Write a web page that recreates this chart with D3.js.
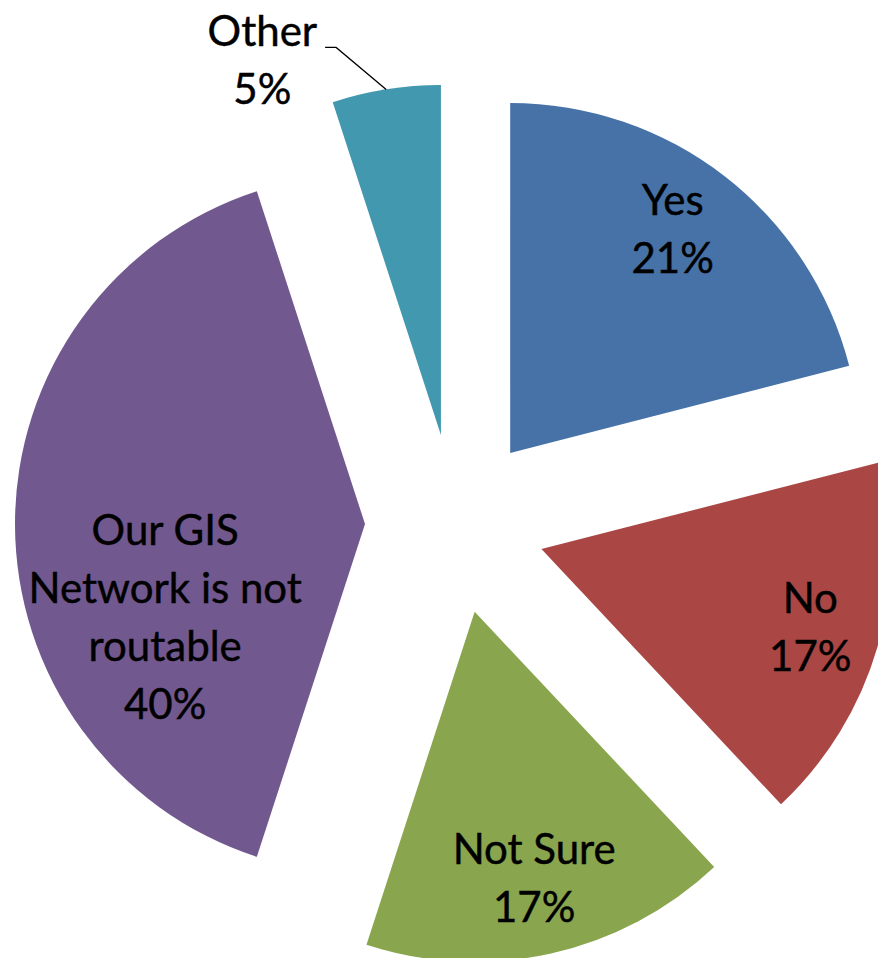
<!DOCTYPE html>
<html>
<head>
<meta charset="utf-8">
<script src="https://cdn.jsdelivr.net/npm/d3@7"></script>
<style>
  html, body { margin: 0; padding: 0; background: #fff; }
  svg { display: block; }
  text { font-family: Lato, "Open Sans", sans-serif; fill: #000; stroke: #000; stroke-width: 0.45px; }
</style>
</head>
<body>
<svg id="chart" width="878" height="958"></svg>
<script>
// Survey answers, clockwise from 12 o'clock
const categories = ["Yes", "No", "Not Sure", "Our GIS Network is not routable", "Other"];
const shares = [21, 17, 17, 40, 5];
const nameLines = [["Yes"], ["No"], ["Not Sure"], ["Our GIS", "Network is not", "routable"], ["Other"]];
const percentLabels = ["21%", "17%", "17%", "40%", "5%"];
const sliceColors = ["#4672A7", "#AA4643", "#89A54E", "#71588F", "#4198AF"];

const W = 878, H = 958;
const cx = 455, cy = 524;       // pie centre
const R = 350;                  // slice radius
const explode = 90;             // how far each slice is pulled out
const fontSize = 42, lineH = 58;

// label placement: polar offset from each slice's own apex (angle in degrees, distance as fraction of R)
const labelPolar = [
  { a: 36, f: 0.79 },
  { a: null, f: 0.80 },
  { a: null, f: 0.78 },
  { a: 245, f: 0.63 },
  { a: 334.5, f: 1.185, outside: true }
];

const svg = d3.select("#chart");
const pie = d3.pie().sort(null).value(d => d).startAngle(0).endAngle(2 * Math.PI);
const arcs = pie(shares);
const arc = d3.arc().innerRadius(0).outerRadius(R);

const polar = (ang, r) => [r * Math.sin(ang), -r * Math.cos(ang)];

const g = svg.append("g").attr("transform", `translate(${cx},${cy})`);

arcs.forEach((d, i) => {
  const mid = (d.startAngle + d.endAngle) / 2;
  const [ox, oy] = polar(mid, explode);
  const sg = g.append("g").attr("transform", `translate(${ox},${oy})`);
  sg.append("path").attr("d", arc(d)).attr("fill", sliceColors[i]);

  const lp = labelPolar[i];
  const la = lp.a == null ? mid : lp.a * Math.PI / 180;
  const [lx, ly] = polar(la, lp.f * R);
  const lines = nameLines[i].concat([percentLabels[i]]);
  const top = ly - (lines.length - 1) * lineH / 2;

  const t = sg.append("text")
    .attr("text-anchor", "middle")
    .attr("font-size", fontSize);
  lines.forEach((s, k) => {
    t.append("tspan").attr("x", lx).attr("y", top + k * lineH).attr("dy", "0.35em").text(s);
  });

  if (lp.outside) {
    // leader from the end of the first label line to the middle of the arc
    const [ex, ey] = polar(mid, R);
    const baseY = top + fontSize * 0.35 + 1;
    const startX = lx + t.select("tspan").node().getComputedTextLength() / 2 + 8;
    const elbowX = startX + 11;
    g.append("path")
      .attr("transform", `translate(${ox},${oy})`)
      .attr("d", `M${startX},${baseY}H${elbowX}L${ex},${ey}`)
      .attr("fill", "none").attr("stroke", "#000").attr("stroke-width", 1.3);
  }
});
</script>
</body>
</html>
